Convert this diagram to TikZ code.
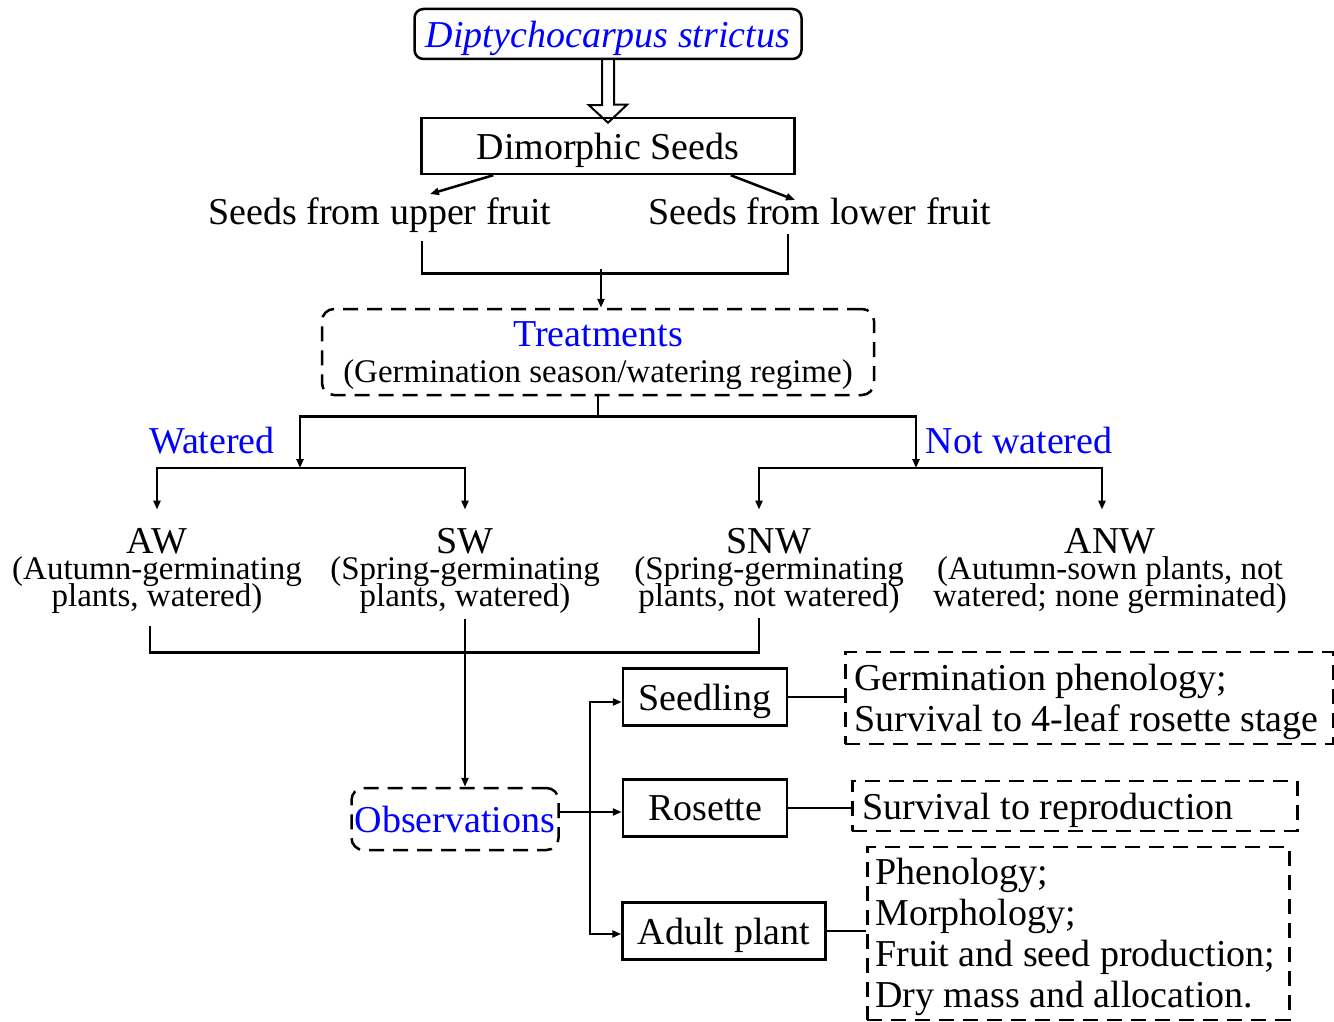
\documentclass[tikz,border=0pt]{standalone}
\usepackage{fontspec}
\setmainfont{Liberation Serif}
\usepackage{tikz}
\usetikzlibrary{positioning, arrows.meta}

\newcommand{\bigsize}{\fontsize{38}{41}\selectfont}
\newcommand{\subsize}{\fontsize{33}{27}\selectfont\lineskiplimit=-40pt}

\begin{document}
\begin{tikzpicture}[
  x=1pt, y=-1pt,
  line width=2.5pt,
  box/.style={
    rectangle, draw, inner sep=0pt, text depth=0pt,
    minimum width=164pt, minimum height=57pt, font=\bigsize
  },
  dashbox/.style={
    rectangle, draw, dash pattern=on 15pt off 9pt,
    inner xsep=12pt, inner ysep=0pt, align=flush left, font=\bigsize
  },
  txt/.style={inner sep=0pt, font=\bigsize},
  subtxt/.style={inner sep=0pt, align=center, font=\subsize},
  arrow/.style={-{Triangle[length=9pt,width=7pt]}}
]
  \useasboundingbox (0,0) rectangle (1334,1022);

  % Species and seeds
  \node[box, rounded corners=9pt, minimum width=387pt, minimum height=50pt,
        text=blue, font=\bigsize\itshape] (spec) at (608,34) {Diptychocarpus strictus};
  \node[box, minimum width=373pt, minimum height=56pt] (seeds) at (608,146) {Dimorphic Seeds};
  \node[txt, anchor=base] (upper) at (380,224) {Seeds from upper fruit};
  \node[txt, anchor=base] (lower) at (820,224) {Seeds from lower fruit};

  % Treatments
  \node[dashbox, rounded corners=12pt, align=center, text depth=0pt,
        minimum width=552pt, minimum height=86pt]
    (treat) at (598,352) {\textcolor{blue}{Treatments}\\[-5pt]{\subsize (Germination season/watering regime)}};
  \node[txt, text=blue] (wat) at (212,441) {Watered};
  \node[txt, text=blue] (nwat) at (1019,440) {Not watered};

  \node[txt, anchor=base] (aw) at (157,553) {AW};
  \node[subtxt, below=1pt of aw] (awd) {(Autumn-germinating\\plants, watered)};
  \node[txt, anchor=base] (sw) at (465,553) {SW};
  \node[subtxt, below=1pt of sw] (swd) {(Spring-germinating\\plants, watered)};
  \node[txt, anchor=base] (snw) at (769,553) {SNW};
  \node[subtxt, below=1pt of snw] (snwd) {(Spring-germinating\\plants, not watered)};
  \node[txt, anchor=base] (anw) at (1110,553) {ANW};
  \node[subtxt, below=1pt of anw] (anwd) {(Autumn-sown plants, not\\watered; none germinated)};

  % Observations
  \node[dashbox, rounded corners=12pt, text=blue, inner xsep=3pt,
        minimum width=207pt, minimum height=62pt] (obs) at (455,819) {Observations};
  \node[box] (seedl) at (705,697) {Seedling};
  \node[box] (ros) at (705,808) {Rosette};
  \node[box, minimum width=203pt] (adult) at (724,931) {Adult plant};

  \node[dashbox, anchor=west, inner xsep=9pt, text width=470pt, text depth=41pt, minimum height=92pt]
    (germ) at (844,698) {Germination phenology;\\Survival to 4-leaf rosette stage};
  \node[dashbox, anchor=west, inner xsep=10pt, text width=425pt, text depth=0pt, minimum height=50pt]
    (surv) at (851,806) {Survival to reproduction};
  \node[dashbox, anchor=west, inner xsep=8pt, text width=406pt, text depth=124pt, minimum height=173pt]
    (traits) at (866,933.5) {Phenology;\\Morphology;\\Fruit and seed production;\\Dry mass and allocation.};

  % Hollow arrow
  \draw[line width=2pt] ([xshift=-6pt]spec.south) -- ++(0,45) -- ++(-13,0)
    -- ([yshift=-6pt]seeds.north) -- ++(19,-18) -- ++(-13,0) -- ([xshift=6pt]spec.south);

  % Flow arrows
  \draw[arrow] ([xshift=73pt]seeds.south west) -- ([xshift=50pt,yshift=2pt]upper.north);
  \draw[arrow] ([xshift=-65pt]seeds.south east) -- ([xshift=-25pt,yshift=-4pt]lower.north);
  \draw ([xshift=42pt,yshift=-8pt]upper.south) -- ++(0,32) -| ([xshift=-32pt,yshift=-8pt]lower.south);
  \draw[arrow] ([xshift=3pt,yshift=39pt]treat.north) -- ([xshift=3pt]treat.north);

  \draw (treat.south) -- ++(0,20) coordinate (tfork);
  \coordinate (wfork) at (300,468);
  \coordinate (nfork) at (916,468);
  \draw[arrow] (tfork) -| (wfork);
  \draw[arrow] (tfork) -| (nfork);
  \draw[arrow] (wfork) -| ([yshift=17pt]aw.north);
  \draw[arrow] (wfork) -| ([yshift=17pt]sw.north);
  \draw[arrow] (nfork) -| ([xshift=-10pt,yshift=17pt]snw.north);
  \draw[arrow] (nfork) -| ([xshift=-8pt,yshift=17pt]anw.north);

  \draw ([xshift=-7pt,yshift=-11pt]awd.south) -- ++(0,26) -| ([xshift=-10pt,yshift=-3pt]snwd.south);
  \draw[arrow] ([yshift=-4pt]swd.south) -- (swd.south |- obs.north);

  \draw ([yshift=7pt]obs.east) -- ++(30,0) coordinate (ofork);
  \draw[arrow] (ofork) |- ([yshift=-5pt]seedl.west);
  \draw[arrow] (ofork) -- (ofork -| ros.west);
  \draw[arrow] (ofork) |- ([yshift=-3pt]adult.west);

  \draw (seedl.east) -- (seedl.east -| germ.west);
  \draw (ros.east) -- (ros.east -| surv.west);
  \draw (adult.east) -- (adult.east -| traits.west);
\end{tikzpicture}
\end{document}
